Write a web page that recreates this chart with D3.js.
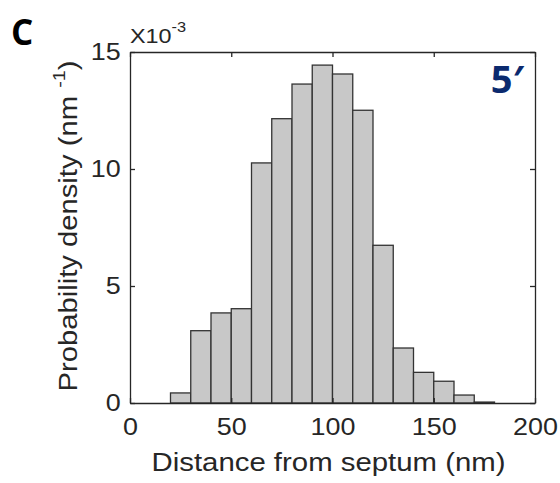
<!DOCTYPE html>
<html>
<head>
<meta charset="utf-8">
<script src="https://cdn.jsdelivr.net/npm/d3@7"></script>
<style>
  body { margin: 0; background: #fff; }
  text { font-family: Arial, "Liberation Sans", sans-serif; }
</style>
</head>
<body>
<script>
// histogram bins (nm) and probability density (x10^-3 nm^-1)
var binStarts = [20, 30, 40, 50, 60, 70, 80, 90, 100, 110, 120, 130, 140, 150, 160, 170];
var binWidth = 10;
var density = [0.43, 3.09, 3.85, 4.03, 10.26, 12.15, 13.63, 14.44, 14.06, 12.51, 6.74, 2.35, 1.31, 0.93, 0.34, 0.04];
var xTicks = [0, 50, 100, 150, 200];
var yTicks = [0, 5, 10, 15];

var W = 560, H = 483;
var m = {left: 130, right: 25, top: 52, bottom: 80};
var ink = "#262626";
var sx = 1.17; // text in the reference is a bit wide

var svg = d3.select("body").append("svg")
  .attr("width", W)
  .attr("height", H);

var x = d3.scaleLinear().domain([0, 200]).range([m.left, W - m.right]);
var y = d3.scaleLinear().domain([0, 15]).range([H - m.bottom, m.top]);

// bars
svg.append("g").selectAll("rect")
  .data(density)
  .enter()
  .append("rect")
  .attr("x", (d, i) => x(binStarts[i]))
  .attr("y", d => y(d))
  .attr("width", (d, i) => x(binStarts[i] + binWidth) - x(binStarts[i]))
  .attr("height", d => y(0) - y(d))
  .style("fill", "#c8c8c8")
  .attr("stroke", "#333")
  .attr("stroke-width", 1.3);

// axes (MATLAB style: ticks inward, box on)
var tk = 5;
var axB = svg.append("g").attr("transform", "translate(0," + y(0) + ")")
  .call(d3.axisBottom(x).tickValues(xTicks).tickSizeInner(-tk).tickSizeOuter(0).tickPadding(16));
var axT = svg.append("g").attr("transform", "translate(0," + y(15) + ")")
  .call(d3.axisTop(x).tickValues(xTicks).tickSizeInner(-tk).tickSizeOuter(0).tickFormat(""));
var axL = svg.append("g").attr("transform", "translate(" + x(0) + ",0)")
  .call(d3.axisLeft(y).tickValues(yTicks).tickSizeInner(-tk).tickSizeOuter(0).tickPadding(8));
var axR = svg.append("g").attr("transform", "translate(" + x(200) + ",0)")
  .call(d3.axisRight(y).tickValues(yTicks).tickSizeInner(-tk).tickSizeOuter(0).tickFormat(""));

[axB, axT, axL, axR].forEach(g => {
  g.select(".domain").attr("stroke", ink).attr("stroke-width", 1.3);
  g.selectAll(".tick line").attr("stroke", ink).attr("stroke-width", 1.3);
  g.selectAll(".tick text").attr("fill", ink)
    .attr("transform", "scale(" + sx + ",1)")
    .style("font-size", "23px")
    .style("font-family", "Arial, 'Liberation Sans', sans-serif");
});

// exponent label
var ex = svg.append("text")
  .attr("transform", "translate(" + x(0) + ",43) scale(" + sx + ",1)")
  .attr("fill", ink)
  .style("font-size", "20px");
ex.append("tspan").text("X10");
ex.append("tspan").attr("dy", -11).style("font-size", "14px").text("-3");

// axis titles
svg.append("text")
  .attr("x", (x(0) + x(200)) / 2 - 4)
  .attr("y", 471)
  .attr("text-anchor", "middle")
  .attr("fill", ink)
  .attr("textLength", 354)
  .attr("lengthAdjust", "spacingAndGlyphs")
  .style("font-size", "25px")
  .text("Distance from septum (nm)");

var yl = svg.append("text")
  .attr("transform", "translate(77,226) rotate(-90) scale(" + sx + ",1)")
  .attr("text-anchor", "middle")
  .attr("fill", ink)
  .style("font-size", "25px");
yl.append("tspan").text("Probability density (nm ");
yl.append("tspan").attr("dy", -12).style("font-size", "17px").text("-1");
yl.append("tspan").attr("dy", 12).text(")");

// panel letter and annotation
svg.append("text")
  .attr("x", 11)
  .attr("y", 45)
  .style("font-size", "35px")
  .style("font-weight", "bold")
  .style("font-family", "'Open Sans', Arial, sans-serif")
  .attr("fill", "#000")
  .text("C");

svg.append("text")
  .attr("x", 524)
  .attr("y", 93)
  .attr("text-anchor", "end")
  .style("font-size", "38px")
  .style("font-weight", "bold")
  .style("font-family", "'Open Sans', sans-serif")
  .attr("fill", "#0b2a6e")
  .text("5\u2032");
</script>
</body>
</html>
